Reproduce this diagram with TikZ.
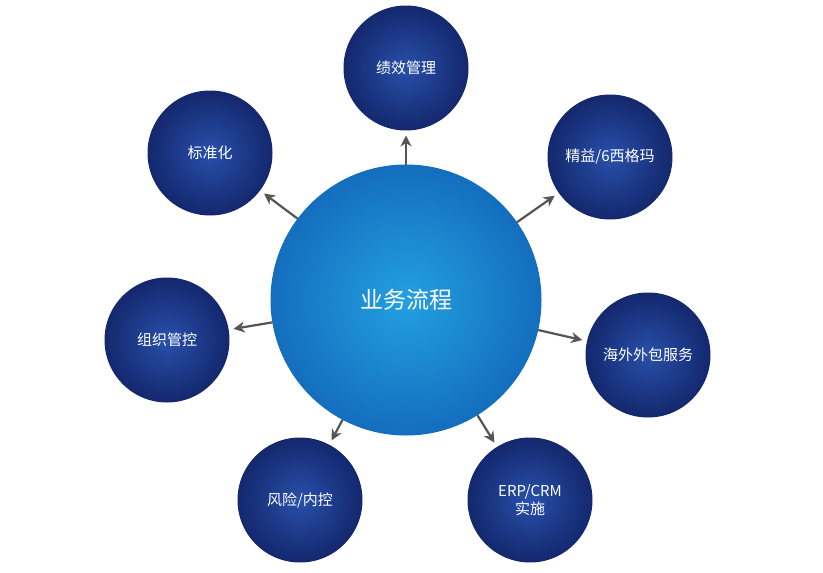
\documentclass[tikz,border=0pt]{standalone}
\usepackage{fontspec}
\newfontfamily\cjk{Noto Sans CJK SC}
\usetikzlibrary{arrows.meta}
\definecolor{satin}{RGB}{40,80,170}
\definecolor{satout}{RGB}{20,40,110}
\definecolor{hubin}{RGB}{35,160,225}
\definecolor{hubout}{RGB}{20,110,190}
\begin{document}
\begin{tikzpicture}[x=1pt,y=-1pt,
  sat/.style={circle,minimum size=124pt,inner sep=0pt,inner color=satin,outer color=satout,draw=satout,line width=1pt,text=white,font=\cjk\fontsize{15}{18}\selectfont,align=center},
  hub/.style={circle,minimum size=270pt,inner sep=0pt,inner color=hubin,outer color=hubout,draw=hubout,line width=1pt,text=white,font=\cjk\fontsize{23}{27}\selectfont},
  arr/.style={draw={rgb,255:red,85;green,85;blue,85},line width=2.2pt,-{Stealth[length=11pt,width=11pt]},shorten >=5pt}]
\useasboundingbox (0,0) rectangle (823,573);
\node[hub] (c) at (406,300) {业务流程};
\node[sat] (a) at (406,68) {绩效管理};
\node[sat] (b) at (210,153) {标准化};
\node[sat] (d) at (610,157) {精益/6西格玛};
\node[sat] (e) at (167,340) {组织管控};
\node[sat] (f) at (648,355) {海外外包服务};
\node[sat] (g) at (300,500) {风险/内控};
\node[sat] (h) at (530,500) {ERP/CRM\\实施};
\foreach \s in {a,b,d,e,f,g,h} \draw[arr] (c) -- (\s);
\end{tikzpicture}
\end{document}
